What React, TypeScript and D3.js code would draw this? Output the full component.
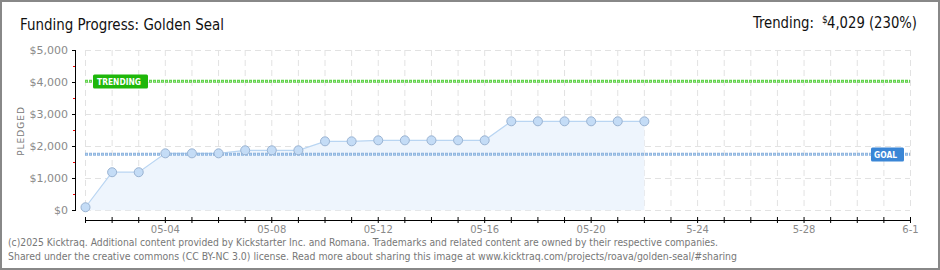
import React from "react";
import * as d3 from "d3";

const days: string[] = [
  "05-01","05-02","05-03","05-04","05-05","05-06","05-07","05-08","05-09","05-10","05-11",
  "05-12","05-13","05-14","05-15","05-16","05-17","05-18","05-19","05-20","05-21","05-22",
];
const pledged: number[] = [
  95, 1190, 1190, 1780, 1780, 1780, 1875, 1875, 1875, 2156, 2156,
  2187, 2187, 2187, 2187, 2187, 2781, 2781, 2781, 2781, 2781, 2781,
];
const xTickLabels: { day: number; label: string }[] = [
  { day: 3, label: "05-04" }, { day: 7, label: "05-08" }, { day: 11, label: "05-12" },
  { day: 15, label: "05-16" }, { day: 19, label: "05-20" }, { day: 23, label: "5-24" },
  { day: 27, label: "5-28" }, { day: 31, label: "6-1" },
];
const yTicks: number[] = [0, 1000, 2000, 3000, 4000, 5000];
const yMinor: number[] = [500, 1500, 2500, 3500, 4500];
const goal = 1752;
const trending = 4029;
const totalDays = 31;

export default function App() {
  const W = 940, H = 270;
  const x = d3.scaleLinear().domain([0, totalDays]).range([85.5, 910.5]);
  const y = d3.scaleLinear().domain([0, 5000]).range([210.3, 50.3]);
  const pts: [number, number][] = pledged.map((v, i) => [x(i), y(v)]);
  const line = d3.line<[number, number]>().x(d => d[0]).y(d => d[1]);
  const area = d3.area<[number, number]>().x(d => d[0]).y0(y(0)).y1(d => d[1]);
  const dayIdx = d3.range(0, totalDays + 1);
  const font = "'DejaVu Sans', sans-serif";
  const cond = "'DejaVu Sans Condensed', 'DejaVu Sans', sans-serif";
  return (
    <svg width={W} height={H} style={{ position: "absolute", left: 0, top: 0, background: "#fff" }}>
      <rect x={1} y={1} width={W - 2} height={H - 2} fill="#fff" stroke="#888" strokeWidth={2} />
      <text x={20} y={30} fontFamily={cond} fontSize={16} fill="#111" textLength={204} lengthAdjust="spacingAndGlyphs">
        Funding Progress: Golden Seal
      </text>
      <text x={753} y={28} fontFamily={cond} fontSize={16} fill="#111" textLength={61} lengthAdjust="spacingAndGlyphs">Trending:</text>
      <text x={822} y={23} fontFamily={cond} fontSize={10} fill="#111">$</text>
      <text x={827} y={28} fontFamily={cond} fontSize={16} fill="#111" textLength={90} lengthAdjust="spacingAndGlyphs">4,029 (230%)</text>

      {/* grid */}
      {dayIdx.map(d => (
        <line key={"gx" + d} x1={x(d)} x2={x(d)} y1={50} y2={210} stroke="#e2e2e2" strokeDasharray="6,4" />
      ))}
      {yTicks.map(v => (
        <line key={"gy" + v} x1={85} x2={910} y1={Math.round(y(v)) + 0.5} y2={Math.round(y(v)) + 0.5} stroke="#e2e2e2" strokeDasharray="6,4" />
      ))}

      {/* area + line */}
      <path d={area(pts) || ""} fill="#eef5fd" />
      <path d={line(pts) || ""} fill="none" stroke="#b9d5f2" strokeWidth={1.2} />

      {/* goal & trending */}
      <line x1={85} x2={910} y1={y(goal)} y2={y(goal)} stroke="#8fb5df" strokeWidth={3} strokeDasharray="3,1" />
      <line x1={85} x2={910} y1={y(goal)} y2={y(goal)} stroke="#bcd5ef" strokeWidth={1} strokeDasharray="1,3" strokeDashoffset={-1} />
      <line x1={85} x2={910} y1={y(trending)} y2={y(trending)} stroke="#5fd24a" strokeWidth={3} strokeDasharray="3,1" />
      <line x1={85} x2={910} y1={y(trending)} y2={y(trending)} stroke="#a8ec98" strokeWidth={1} strokeDasharray="1,3" strokeDashoffset={-1} />

      {pts.map((p, i) => (
        <circle key={"c" + i} cx={p[0]} cy={p[1]} r={4.5} fill="#c4dcf6" stroke="#9ab3d2" strokeWidth={1} />
      ))}

      <rect x={93} y={74.5} width={55} height={14} rx={1.5} fill="#1fb70a" />
      <text x={97} y={85} fontFamily={font} fontWeight="bold" fontSize={9} fill="#fff" textLength={44} lengthAdjust="spacingAndGlyphs">TRENDING</text>
      <rect x={871} y={147.5} width={33} height={14} rx={1.5} fill="#3a86d6" />
      <text x={874} y={158} fontFamily={font} fontWeight="bold" fontSize={9} fill="#fff" textLength={23} lengthAdjust="spacingAndGlyphs">GOAL</text>

      {/* y axis */}
      <line x1={75.5} x2={75.5} y1={50} y2={210.5} stroke="#000" />
      {yTicks.map(v => (
        <g key={"yt" + v}>
          <line x1={72} x2={76} y1={Math.round(y(v)) + 0.5} y2={Math.round(y(v)) + 0.5} stroke="#000" />
          <text x={68} y={y(v) + 4} textAnchor="end" fontFamily={font} fontSize={11} fill="#8a8a8a">
            {"$" + d3.format(",")(v)}
          </text>
        </g>
      ))}
      {yMinor.map(v => (
        <line key={"ym" + v} x1={73} x2={75} y1={Math.round(y(v)) + 0.5} y2={Math.round(y(v)) + 0.5} stroke="#e00" />
      ))}
      <text transform="translate(24,131) rotate(-90)" textAnchor="middle" fontFamily={font} fontSize={9} fill="#777" letterSpacing={1}>PLEDGED</text>

      {/* x axis */}
      <line x1={85} x2={911} y1={220.5} y2={220.5} stroke="#000" />
      {dayIdx.map(d => (
        <line key={"xt" + d} x1={x(d)} x2={x(d)} y1={217} y2={223} stroke="#000" />
      ))}
      {xTickLabels.map(t => (
        <text key={"xl" + t.label} x={x(t.day)} y={233} textAnchor="middle" fontFamily={font} fontSize={10} fill="#8a8a8a">
          {t.label}
        </text>
      ))}

      {/* footer */}
      <text x={8} y={246} fontFamily={cond} fontSize={10} fill="#777" textLength={710} lengthAdjust="spacingAndGlyphs">
        (c)2025 Kicktraq. Additional content provided by Kickstarter Inc. and Romana. Trademarks and related content are owned by their respective companies.
      </text>
      <text x={8} y={260} fontFamily={cond} fontSize={10} fill="#777" textLength={729} lengthAdjust="spacingAndGlyphs">
        Shared under the creative commons (CC BY-NC 3.0) license. Read more about sharing this image at www.kicktraq.com/projects/roava/golden-seal/#sharing
      </text>
    </svg>
  );
}
